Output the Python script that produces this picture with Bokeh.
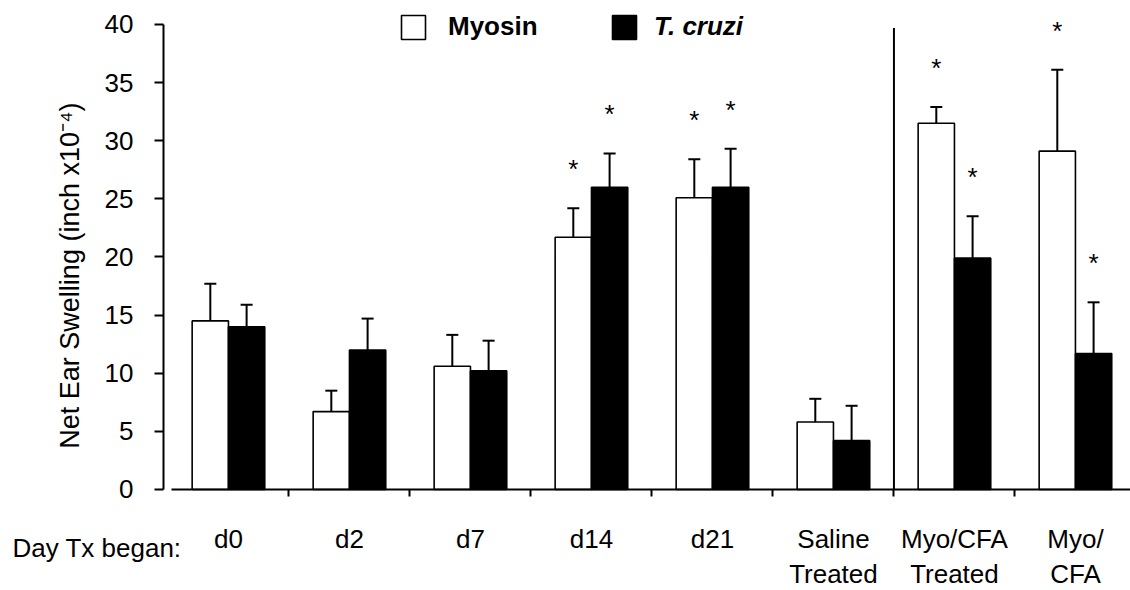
import numpy as np
from bokeh.plotting import figure
from bokeh.models import (ColumnDataSource, Range1d, FixedTicker, Whisker, TeeHead,
                          Legend, LegendItem, Label, LabelSet, LinearAxis)
from bokeh.core.properties import value
from bokeh.embed import file_html
from bokeh.resources import INLINE

# Net ear swelling (inch x10^-4), mean and SEM per treatment group
groups = ["d0", "d2", "d7", "d14", "d21", "Saline\nTreated", "Myo/CFA\nTreated", "Myo/\nCFA"]
myosin_mean = [14.5, 6.7, 10.6, 21.7, 25.1, 5.8, 31.5, 29.1]
myosin_sem = [3.2, 1.8, 2.7, 2.5, 3.3, 2.0, 1.4, 7.0]
tcruzi_mean = [14.0, 12.0, 10.2, 26.0, 26.0, 4.2, 19.9, 11.7]
tcruzi_sem = [1.9, 2.7, 2.6, 2.9, 3.3, 3.0, 3.6, 4.4]
myosin_sig = [False, False, False, True, True, False, True, True]
tcruzi_sig = [False, False, False, True, True, False, True, True]
y_ticks = [0, 5, 10, 15, 20, 25, 30, 35, 40]

FONT = "Liberation Sans"
FS = "26px"
BAR_W = 0.3
AXIS_X = -0.537          # where the value axis crosses

pos = np.arange(len(groups), dtype=float)

# the frame covers the whole canvas; axes are pinned at fixed locations
p = figure(width=1130, height=590, output_backend="svg", toolbar_location=None,
           x_range=Range1d(-1.884, 7.455), y_range=Range1d(-8.688, 42.06),
           x_axis_type=None, y_axis_type=None, min_border=0,
           min_border_left=0, min_border_right=0, min_border_top=0, min_border_bottom=0)
p.xgrid.visible = False
p.ygrid.visible = False
p.outline_line_color = None
p.background_fill_color = "white"
p.border_fill_color = "white"

# value axis
ya = LinearAxis(fixed_location=AXIS_X, bounds=(0, 40),
                ticker=FixedTicker(ticks=y_ticks, minor_ticks=[]))
ya.axis_line_width = 2
ya.axis_line_color = "black"
ya.major_tick_line_width = 2
ya.major_tick_line_color = "black"
ya.major_tick_in = 0
ya.major_tick_out = 9
ya.minor_tick_line_color = None
ya.major_label_standoff = 21
ya.major_label_text_font = FONT
ya.major_label_text_font_size = FS
ya.major_label_text_color = "black"
p.add_layout(ya, "left")

# category axis line with ticks between the groups
xa = LinearAxis(fixed_location=0, bounds=(-0.471, 7.455),
                ticker=FixedTicker(ticks=[], minor_ticks=list(pos[:-1] + 0.5)))
xa.axis_line_width = 2
xa.axis_line_color = "black"
xa.major_tick_line_color = None
xa.minor_tick_line_width = 2
xa.minor_tick_line_color = "black"
xa.minor_tick_in = 0
xa.minor_tick_out = 7
p.add_layout(xa, "below")

# bars
src_m = ColumnDataSource(dict(
    x=pos - BAR_W / 2, top=myosin_mean,
    upper=[m + s for m, s in zip(myosin_mean, myosin_sem)]))
src_t = ColumnDataSource(dict(
    x=pos + BAR_W / 2, top=tcruzi_mean,
    upper=[m + s for m, s in zip(tcruzi_mean, tcruzi_sem)]))

r_m = p.vbar(x="x", top="top", bottom=0, width=BAR_W, source=src_m,
             fill_color="white", line_color="black", line_width=1.6)
r_t = p.vbar(x="x", top="top", bottom=0, width=BAR_W, source=src_t,
             fill_color="black", line_color="black", line_width=1.6)

# upward error bars
for src in (src_m, src_t):
    p.add_layout(Whisker(source=src, base="x", upper="upper", lower="top",
                         upper_head=TeeHead(size=12, line_color="black", line_width=2),
                         lower_head=None, line_color="black", line_width=2,
                         level="overlay"))

# significance asterisks above error bars
star_x, star_y = [], []
for src, sig in ((src_m, myosin_sig), (src_t, tcruzi_sig)):
    for xv, up, s in zip(src.data["x"], src.data["upper"], sig):
        if s:
            star_x.append(xv)
            star_y.append(up)
p.text(x=star_x, y=star_y, text=["*"] * len(star_x), text_align="center",
       text_baseline="alphabetic", y_offset=-39, text_font=value(FONT),
       text_font_size=FS, text_color="black")

# divider separating the Myo/CFA controls
split = groups.index("Myo/CFA\nTreated") - 0.5
p.segment(x0=[split], y0=[0], x1=[split], y1=[39.7], line_color="black", line_width=2)

# group labels under the axis, one row per text line
line1 = [g.split("\n")[0] for g in groups]
line2 = [g.split("\n")[1] if "\n" in g else "" for g in groups]
for txt, yy in ((line1, -4.99), (line2, -8.0)):
    src = ColumnDataSource(dict(x=pos, y=[yy] * len(groups), text=txt))
    p.add_layout(LabelSet(source=src, x="x", y="y", text="text", text_align="center",
                          text_baseline="alphabetic", text_font=value(FONT),
                          text_font_size=FS, text_color="black"))
p.add_layout(Label(x=-1.785, y=-4.99, text="Day Tx began:", text_align="left",
                   text_baseline="alphabetic", text_font=FONT, text_font_size=FS,
                   text_color="black"))

# value axis title
p.add_layout(Label(x=-1.306, y=18.4, text="Net Ear Swelling (inch x10\u207b\u2074)",
                   angle=np.pi / 2, text_align="center", text_baseline="middle",
                   text_font=FONT, text_font_size="27px", text_color="black"))

# legends (separate so each label keeps its own style)
leg_common = dict(orientation="horizontal", glyph_width=30, glyph_height=30,
                  padding=0, margin=0, border_line_color=None,
                  background_fill_alpha=0, label_text_font=FONT,
                  label_text_font_size=FS, label_text_color="black")
leg_m = Legend(items=[LegendItem(label="Myosin", renderers=[r_m])],
               location=(398, 548), label_standoff=20,
               label_text_font_style="bold", **leg_common)
leg_t = Legend(items=[LegendItem(label="T. cruzi", renderers=[r_t])],
               location=(609, 548), label_standoff=15,
               label_text_font_style="bold italic", **leg_common)
p.add_layout(leg_m, "center")
p.add_layout(leg_t, "center")

open("out.html", "w").write(file_html(p, INLINE))
